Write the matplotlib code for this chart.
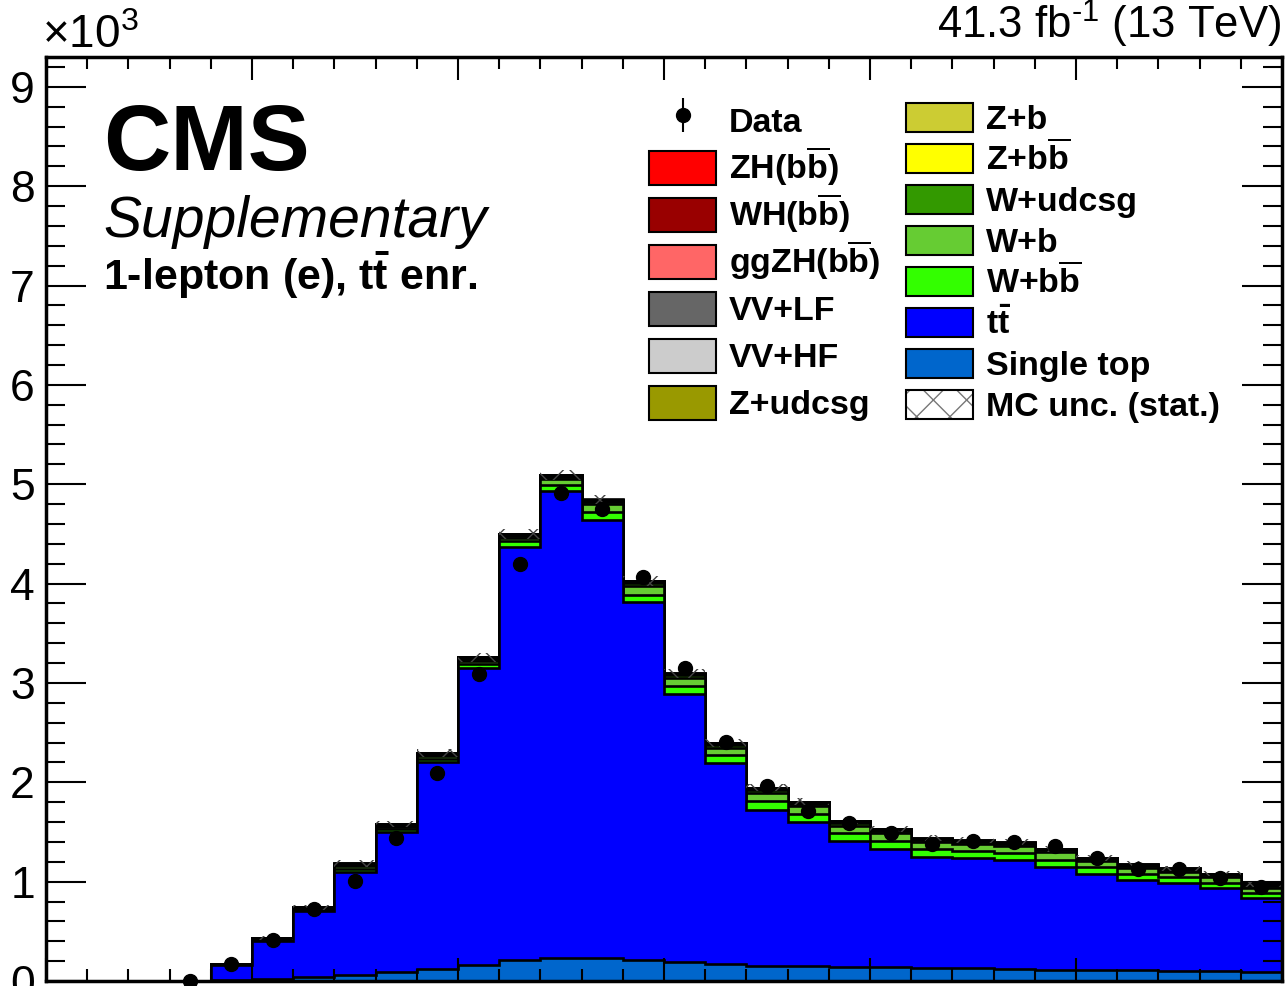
import numpy as np
import matplotlib
matplotlib.use("Agg")
import matplotlib.pyplot as plt
import matplotlib.patches as mpatches
from matplotlib.legend_handler import HandlerPatch, HandlerBase
from matplotlib.ticker import MultipleLocator, FuncFormatter

plt.rcParams["font.family"] = ["Liberation Sans", "DejaVu Sans"]
plt.rcParams["mathtext.fontset"] = "custom"
plt.rcParams["mathtext.rm"] = "Liberation Sans"
plt.rcParams["mathtext.it"] = "Liberation Sans:italic"
plt.rcParams["mathtext.bf"] = "Liberation Sans:bold"
plt.rcParams["hatch.linewidth"] = 1.0

# 30 bins, events per bin
bin_edges = np.arange(31)

data = [np.nan, np.nan, np.nan, 2, 170, 410, 720, 1010, 1440, 2090,
        3090, 4200, 4910, 4750, 4070, 3150, 2410, 1960, 1710, 1590,
        1490, 1380, 1410, 1400, 1360, 1240, 1130, 1130, 1040, 950]

single_top = [0, 0, 0, 0, 10, 25, 40, 60, 90, 120,
              160, 210, 230, 230, 210, 190, 170, 150, 150, 145,
              140, 130, 130, 120, 110, 110, 110, 100, 100, 90]
ttbar = [0, 0, 0, 0, 150, 375, 660, 1040, 1410, 2080,
         2995, 4160, 4700, 4410, 3600, 2700, 2020, 1570, 1450, 1265,
         1190, 1120, 1110, 1100, 1040, 970, 910, 890, 840, 750]
w_bb = [0, 0, 0, 0, 5, 10, 12, 30, 25, 30,
        35, 60, 60, 80, 80, 80, 80, 95, 80, 80,
        80, 75, 70, 70, 70, 65, 60, 55, 50, 45]
w_b = [0, 0, 0, 0, 5, 10, 12, 30, 25, 30,
       30, 30, 60, 80, 90, 80, 80, 80, 80, 75,
       75, 70, 70, 70, 75, 60, 60, 55, 55, 55]
w_udcsg = [0, 0, 0, 0, 3, 5, 8, 12, 15, 18,
           20, 20, 20, 25, 25, 25, 25, 30, 25, 25,
           25, 25, 20, 20, 20, 20, 20, 20, 20, 20]
z_bb = [0, 0, 0, 0, 0, 1, 1, 2, 2, 3,
        3, 3, 3, 3, 3, 3, 3, 3, 3, 2,
        2, 2, 2, 2, 2, 2, 2, 2, 2, 2]
z_b = [0, 0, 0, 0, 0, 1, 1, 1, 2, 2,
       2, 2, 2, 2, 2, 2, 2, 2, 2, 2,
       2, 2, 2, 2, 1, 1, 1, 1, 1, 1]
z_udcsg = [0, 0, 0, 0, 1, 2, 3, 4, 5, 5,
           6, 6, 6, 6, 6, 6, 5, 5, 5, 5,
           5, 4, 4, 4, 4, 4, 4, 3, 3, 3]
vv_hf = [0, 0, 0, 0, 0, 1, 1, 1, 2, 2,
         2, 3, 3, 3, 3, 3, 3, 3, 3, 3,
         3, 2, 2, 2, 2, 2, 2, 2, 2, 2]
vv_lf = [0, 0, 0, 0, 1, 1, 2, 2, 3, 3,
         4, 4, 4, 4, 4, 4, 4, 4, 3, 3,
         3, 3, 3, 3, 3, 3, 3, 3, 3, 3]
ggzh = [0, 0, 0, 0, 0, 0, 0, 0, 0, 0.5,
        0.5, 0.5, 0.5, 0.5, 0.5, 0.5, 0.5, 0.5, 0.5, 0.5,
        0.5, 0.5, 0.5, 0.5, 0.5, 0.5, 0.5, 0.5, 0.5, 0.5]
wh = [0, 0, 0, 0, 0, 0, 0, 1, 1, 1,
      1, 1, 2, 2, 2, 2, 2, 2, 2, 2,
      2, 2, 2, 2, 2, 2, 2, 2, 2, 2]
zh = [0, 0, 0, 0, 0, 0, 0, 0, 0, 0.5,
      0.5, 0.5, 1, 1, 1, 1, 1, 1, 1, 1,
      1, 1, 1, 1, 1, 1, 1, 1, 1, 1]
mc_unc = [0, 0, 0, 0, 15, 22, 28, 32, 35, 40,
          45, 50, 52, 50, 46, 42, 38, 35, 33, 32,
          31, 30, 30, 29, 29, 28, 28, 27, 27, 26]

# stacking order, bottom to top
stack = [
    (single_top, "Single top", "#0066cc"),
    (ttbar, r"t$\mathbf{\bar{t}}$", "#0000ff"),
    (w_bb, r"W+b$\mathbf{\overline{b}}$", "#33ff00"),
    (w_b, "W+b", "#66cc33"),
    (w_udcsg, "W+udcsg", "#339900"),
    (z_bb, r"Z+b$\mathbf{\overline{b}}$", "#ffff00"),
    (z_b, "Z+b", "#cccc33"),
    (z_udcsg, "Z+udcsg", "#999900"),
    (vv_hf, "VV+HF", "#cccccc"),
    (vv_lf, "VV+LF", "#666666"),
    (ggzh, r"ggZH(b$\mathbf{\overline{b}}$)", "#ff6666"),
    (wh, r"WH(b$\mathbf{\overline{b}}$)", "#990000"),
    (zh, r"ZH(b$\mathbf{\overline{b}}$)", "#ff0000"),
]

fig = plt.figure(figsize=(12.85, 9.86), dpi=100)
ax = fig.add_axes([46 / 1285, 5 / 986, 1236 / 1285, 924 / 986])

cum = np.cumsum(np.array([s[0] for s in stack], dtype=float), axis=0)
for i in reversed(range(len(stack))):
    ax.stairs(cum[i], bin_edges, baseline=0, fill=True,
              facecolor=stack[i][2], linewidth=0, zorder=1)
    ax.stairs(cum[i], bin_edges, baseline=0, fill=False,
              color="black", linewidth=1.9, zorder=1)

total = cum[-1]
unc = np.array(mc_unc, dtype=float)
ax.stairs(total + unc, bin_edges, baseline=total - unc, fill=True,
          facecolor="none", edgecolor="#444444", hatch="x", linewidth=0, zorder=2)

data = np.array(data, dtype=float)
centers = 0.5 * (bin_edges[1:] + bin_edges[:-1])
m = ~np.isnan(data)
data_h = ax.errorbar(centers[m], data[m], yerr=np.sqrt(data[m]), fmt="o",
                     color="black", markersize=10, elinewidth=1.5, capsize=0,
                     zorder=5, clip_on=False)

ax.set_xlim(0, 30)
ax.set_ylim(0, 9300)
ax.xaxis.set_major_locator(MultipleLocator(5))
ax.xaxis.set_minor_locator(MultipleLocator(1))
ax.yaxis.set_major_locator(MultipleLocator(1000))
ax.yaxis.set_minor_locator(MultipleLocator(200))
ax.yaxis.set_major_formatter(FuncFormatter(lambda v, p: f"{v / 1000:g}"))
for sp in ax.spines.values():
    sp.set_linewidth(2.5)
ax.tick_params(axis="y", which="major", direction="in", length=29, width=1.5,
               labelsize=32, pad=8, right=True)
ax.tick_params(axis="y", which="minor", direction="in", length=14, width=1.5,
               right=True)
ax.tick_params(axis="x", which="major", direction="in", length=16.5, width=1.5,
               top=True, labelbottom=False)
ax.tick_params(axis="x", which="minor", direction="in", length=8.5, width=1.5,
               top=True)

# texts
fig.text(42 / 1285, 1 - 48 / 986, r"×10$^{3}$", fontsize=33, va="baseline")
fig.text(1281 / 1285, 1 - 39 / 986, "41.3 fb$^{\u2010 1}$ (13 TeV)", fontsize=31.5,
         ha="right", va="baseline")
fig.text(103 / 1285, 1 - 170 / 986, "CMS", fontsize=67, fontweight="bold",
         va="baseline")
fig.text(103 / 1285, 1 - 237 / 986, "Supplementary", fontsize=41,
         fontstyle="italic", va="baseline")
fig.text(103 / 1285, 1 - 290 / 986, r"1-lepton (e), t$\mathbf{\bar{t}}$ enr.",
         fontsize=31, fontweight="bold", va="baseline")


# legend handles
def small_box(frac):
    def f(legend, orig_handle, xdescent, ydescent, width, height, fontsize):
        hh = frac * height
        return mpatches.Rectangle((-xdescent, -ydescent + 0.5 * (height - hh)),
                                  width, hh)
    return f


class HatchBox(HandlerBase):
    def __init__(self, frac):
        super().__init__()
        self.frac = frac

    def create_artists(self, legend, orig_handle, xdescent, ydescent,
                       width, height, fontsize, trans):
        hh = self.frac * height
        xy = (-xdescent, -ydescent + 0.5 * (height - hh))
        r1 = mpatches.Rectangle(xy, width, hh, facecolor="white",
                                edgecolor="#777777", hatch="x", linewidth=0,
                                transform=trans)
        r2 = mpatches.Rectangle(xy, width, hh, facecolor="none",
                                edgecolor="black", linewidth=1.5,
                                transform=trans)
        return [r1, r2]


patches = {lab: mpatches.Patch(facecolor=c, edgecolor="black", linewidth=1.5)
           for _, lab, c in stack}
unc_h = mpatches.Patch(facecolor="white", edgecolor="black")

left_labels = [r"ZH(b$\mathbf{\overline{b}}$)", r"WH(b$\mathbf{\overline{b}}$)",
               r"ggZH(b$\mathbf{\overline{b}}$)", "VV+LF", "VV+HF", "Z+udcsg"]
right_labels = ["Z+b", r"Z+b$\mathbf{\overline{b}}$", "W+udcsg", "W+b",
                r"W+b$\mathbf{\overline{b}}$", r"t$\mathbf{\bar{t}}$", "Single top"]

fs = 24.5
leg1 = ax.legend([data_h] + [patches[l] for l in left_labels],
                 ["Data"] + left_labels,
                 loc="upper left", bbox_to_anchor=(0.4879, 0.9562),
                 frameon=False, prop={"weight": "bold", "size": fs},
                 handlelength=1.97, handleheight=1.748, labelspacing=0,
                 handletextpad=0.38, borderpad=0, borderaxespad=0,
                 handler_map={mpatches.Patch: HandlerPatch(patch_func=small_box(0.72))})
ax.add_artist(leg1)

ax.legend([patches[l] for l in right_labels] + [unc_h],
          right_labels + ["MC unc. (stat.)"],
          loc="upper left", bbox_to_anchor=(0.6958, 0.9567),
          frameon=False, prop={"weight": "bold", "size": fs},
          handlelength=1.97, handleheight=1.477, labelspacing=0,
          handletextpad=0.38, borderpad=0, borderaxespad=0,
          handler_map={unc_h: HatchBox(0.71),
                       mpatches.Patch: HandlerPatch(patch_func=small_box(0.71))})

fig.savefig("out.png", dpi=100)
